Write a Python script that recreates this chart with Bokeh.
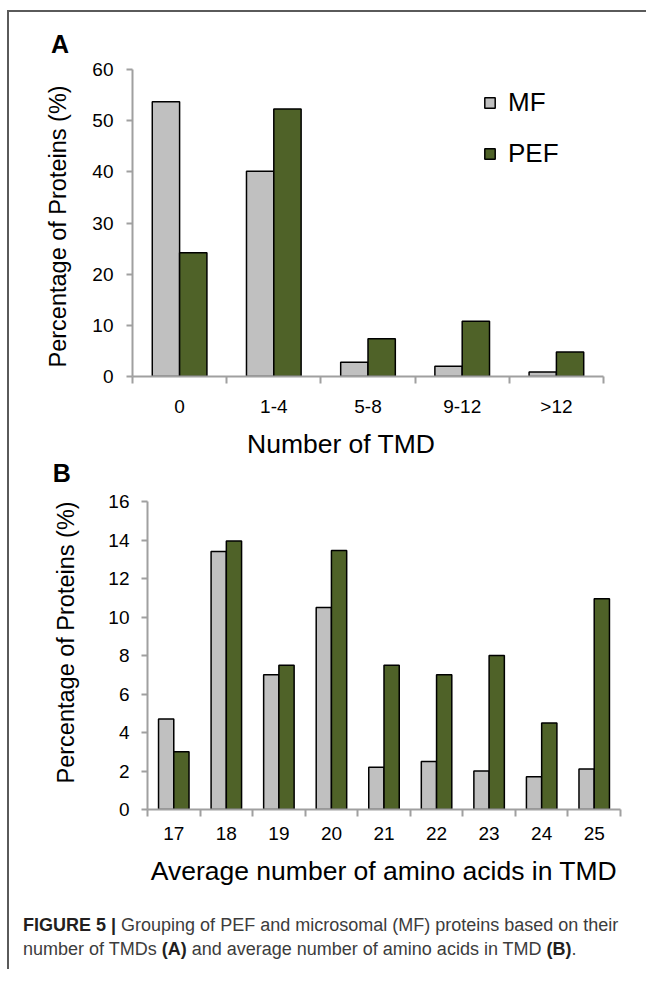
from bokeh.plotting import figure
from bokeh.models import FixedTicker, Legend, LegendItem, Div, Range1d, Title, Spacer
from bokeh.layouts import column, row
from bokeh.embed import file_html
from bokeh.resources import INLINE

# ---------------- data ----------------
tmd_categories = ["0", "1-4", "5-8", "9-12", ">12"]
tmd_mf = [53.7, 40.1, 2.8, 2.0, 0.9]
tmd_pef = [24.2, 52.3, 7.4, 10.8, 4.8]
tmd_yticks = [0, 10, 20, 30, 40, 50, 60]

aa_categories = ["17", "18", "19", "20", "21", "22", "23", "24", "25"]
aa_mf = [4.7, 13.4, 7.0, 10.5, 2.2, 2.5, 2.0, 1.7, 2.1]
aa_pef = [3.0, 13.95, 7.5, 13.45, 7.5, 7.0, 8.0, 4.5, 10.95]
aa_yticks = [0, 2, 4, 6, 8, 10, 12, 14, 16]

series_names = ["MF", "PEF"]
y_title = "Percentage of Proteins (%)"
x_title_a = "Number of TMD"
x_title_b = "Average number of amino acids in TMD"

# ---------------- style ----------------
FONT = "Liberation Sans"
MF_COLOR = "#c0c0c0"
PEF_COLOR = "#4f6228"
AXIS_COLOR = "#a0a0a0"
BORDER_COLOR = "#5a5a5a"
W = 637
BAR_W = 0.29


def make_panel(cats, mf, pef, yticks, height, ml, mr, mt, mb, xstand, ystand):
    n = len(cats)
    p = figure(width=W, height=height, output_backend="svg", toolbar_location=None,
               x_range=Range1d(0, n), y_range=Range1d(0, yticks[-1]),
               min_border_left=ml, min_border_right=mr,
               min_border_top=mt, min_border_bottom=mb)
    p.outline_line_color = None
    p.xgrid.visible = False
    p.ygrid.visible = False
    centers = [i + 0.5 for i in range(n)]
    r_mf = p.vbar(x=[c - BAR_W / 2 for c in centers], top=mf, bottom=0, width=BAR_W,
                  fill_color=MF_COLOR, line_color="black", line_width=1.5)
    r_pef = p.vbar(x=[c + BAR_W / 2 for c in centers], top=pef, bottom=0, width=BAR_W,
                   fill_color=PEF_COLOR, line_color="black", line_width=1.5)

    xa = p.xaxis[0]
    xa.ticker = FixedTicker(ticks=centers, minor_ticks=list(range(n + 1)))
    xa.major_label_overrides = {c: lab for c, lab in zip(centers, cats)}
    xa.major_tick_out = 0
    xa.major_tick_in = 0
    xa.minor_tick_out = 7
    xa.minor_tick_in = 0
    xa.major_label_standoff = xstand

    ya = p.yaxis[0]
    ya.ticker = FixedTicker(ticks=yticks, minor_ticks=[])
    ya.major_tick_out = 6
    ya.major_tick_in = 0
    ya.minor_tick_out = 0
    ya.minor_tick_in = 0
    ya.major_label_standoff = ystand

    for ax in (xa, ya):
        ax.axis_line_color = AXIS_COLOR
        ax.axis_line_width = 2
        ax.major_tick_line_color = AXIS_COLOR
        ax.major_tick_line_width = 2
        ax.minor_tick_line_color = AXIS_COLOR
        ax.minor_tick_line_width = 2
        ax.major_label_text_font = FONT
        ax.major_label_text_font_size = "19px"
        ax.major_label_text_color = "black"
        ax.axis_label_text_font = FONT
        ax.axis_label_text_font_style = "normal"
        ax.axis_label_text_color = "black"
    return p, r_mf, r_pef


def add_title(p, side, text, size, offset, standoff, bold=False):
    p.add_layout(Title(text=text, align="left", offset=offset, standoff=standoff,
                       text_font=FONT, text_font_size=size,
                       text_font_style="bold" if bold else "normal",
                       text_color="black"), side)


# ---------------- panel A ----------------
HA = 408
pa, ra1, ra2 = make_panel(tmd_categories, tmd_mf, tmd_pef, tmd_yticks, HA,
                          123, 43, 57, 44, xstand=12, ystand=13)
add_title(pa, "above", "A", "25px", -81.4, 24, bold=True)
add_title(pa, "left", y_title, "23.5px", 9, 37.4)
legend = Legend(items=[LegendItem(label=series_names[0], renderers=[ra1]),
                       LegendItem(label=series_names[1], renderers=[ra2])],
                location=(351, 207), orientation="vertical",
                border_line_color=None, background_fill_alpha=0, padding=0, margin=0,
                spacing=20, glyph_width=13, glyph_height=13, label_standoff=12,
                label_height=30, label_text_font=FONT, label_text_font_size="26px",
                label_text_color="black")
pa.add_layout(legend)

# ---------------- text between the panels ----------------
MID_H = 70
mid = Div(
    text=('<div style="position:relative;height:%dpx">'
          '<div style="position:absolute;left:238px;top:8.8px;font-size:26.5px;'
          'line-height:30px;white-space:nowrap;color:#000">%s</div>'
          '<div style="position:absolute;left:43.8px;top:39px;font-size:25px;'
          'font-weight:bold;line-height:28px;color:#000">B</div></div>') % (MID_H, x_title_a),
    width=W, height=MID_H, margin=0,
    styles={"font-family": FONT + ", Arial, sans-serif"})

# ---------------- panel B ----------------
HB = 405
pb, rb1, rb2 = make_panel(aa_categories, aa_mf, aa_pef, aa_yticks, HB,
                          138, 26, 11, 86, xstand=10, ystand=12)
pb.xaxis[0].axis_label = x_title_b
pb.xaxis[0].axis_label_text_font_size = "26.5px"
pb.xaxis[0].axis_label_standoff = 13
add_title(pb, "left", y_title, "23.5px", 26, 52.4)

# ---------------- caption ----------------
CAP_H = 74
caption = Div(
    text=('<span style="font-weight:bold;color:#231f20">FIGURE 5 |</span> '
          'Grouping of PEF and microsomal (MF) proteins based on their<br>'
          'number of TMDs <b style="color:#231f20">(A)</b> and average number of amino '
          'acids in TMD <b style="color:#231f20">(B)</b>.'),
    width=W, height=CAP_H, margin=0,
    styles={"box-sizing": "border-box", "padding": "18px 0 0 14px",
            "font-family": FONT + ", Arial, sans-serif",
            "font-size": "18px", "line-height": "24px", "color": "#3c3c3c",
            "white-space": "nowrap"})

top_line = Div(text="", width=W + 2, height=2, margin=0,
               styles={"background-color": BORDER_COLOR})
left_line = Div(text="", width=2, height=HA + MID_H + HB + CAP_H, margin=0,
                styles={"background-color": BORDER_COLOR})

body = column(row(pa), mid, row(pb), caption, spacing=0)
layout = column(Spacer(width=10, height=10),
                row(Spacer(width=7, height=10),
                    column(top_line, row(left_line, body, spacing=0), spacing=0),
                    spacing=0),
                spacing=0)
open("out.html", "w").write(file_html(layout, INLINE))
